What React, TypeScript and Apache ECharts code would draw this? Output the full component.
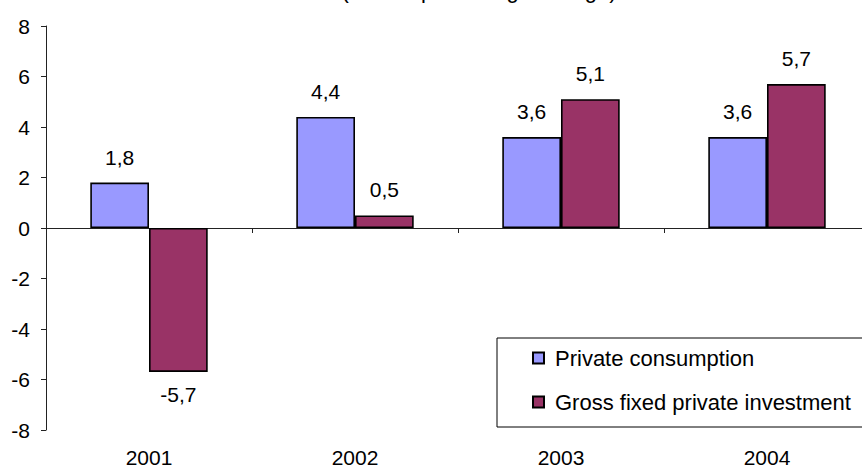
import React, { useEffect, useRef } from "react";
import * as echarts from "echarts";

// Annual figures
const years = ["2001", "2002", "2003", "2004"];
const privateConsumption = [1.8, 4.4, 3.6, 3.6];
const grossFixedInvestment = [-5.7, 0.5, 5.1, 5.7];
const seriesNames = ["Private consumption", "Gross fixed private investment"];
const titleText = "(annual percentage change)";

const FONT = "'Liberation Sans', Arial, sans-serif";

const fmt = (v: number) => String(v).replace(".", ",");

const toData = (values: number[]) =>
  values.map((v) => ({
    value: v,
    label: {
      position: v < 0 ? "bottom" : "top",
      distance: v < 0 ? 12 : 15,
    },
  }));

export default function App() {
  const ref = useRef<HTMLDivElement>(null);

  useEffect(() => {
    if (!ref.current) return;
    const chart = echarts.init(ref.current, undefined, { renderer: "svg" });

    const barStyle = (color: string) => ({
      color,
      borderColor: "#000",
      borderWidth: 1.6,
    });

    const labelCfg = {
      show: true,
      color: "#000",
      fontSize: 21,
      fontFamily: FONT,
      formatter: (p: any) => fmt(p.value),
    };

    chart.setOption({
      animation: false,
      backgroundColor: "#fff",
      textStyle: { fontFamily: FONT },
      graphic: [
        {
          type: "text",
          x: 479,
          y: -10,
          style: {
            text: titleText,
            font: `22px ${FONT}`,
            fill: "#000",
            align: "center",
            verticalAlign: "middle",
          },
        },
      ],
      // the plot area runs a little past the right edge of the page
      grid: {
        left: 46,
        width: 824,
        top: 26,
        bottom: 38,
        outerBoundsMode: "none",
        containLabel: false,
      },
      legend: {
        orient: "vertical",
        left: 497,
        top: 338,
        padding: [9, 40, 14, 35],
        itemGap: 22,
        itemWidth: 11,
        itemHeight: 11,
        icon: "rect",
        borderColor: "#000",
        borderWidth: 1,
        backgroundColor: "#fff",
        textStyle: {
          fontSize: 22,
          color: "#000",
          fontFamily: FONT,
          padding: [0, 0, 0, 6],
        },
        data: seriesNames,
      },
      xAxis: [
        {
          type: "category",
          data: years,
          position: "bottom",
          axisLine: { onZero: true, lineStyle: { color: "#222", width: 1 } },
          axisTick: { show: true, length: 5, lineStyle: { color: "#222" } },
          axisLabel: { show: false },
          splitLine: { show: false },
        },
        {
          type: "category",
          data: years,
          position: "bottom",
          axisLine: { show: false, onZero: false },
          axisTick: { show: false },
          axisLabel: {
            show: true,
            margin: 17,
            fontSize: 21,
            color: "#000",
            fontFamily: FONT,
          },
          splitLine: { show: false },
        },
      ],
      yAxis: {
        type: "value",
        min: -8,
        max: 8,
        interval: 2,
        axisLine: { show: true, lineStyle: { color: "#222", width: 1 } },
        axisTick: { show: true, length: 5, lineStyle: { color: "#222" } },
        axisLabel: {
          margin: 16,
          fontSize: 21,
          color: "#000",
          fontFamily: FONT,
        },
        splitLine: { show: false },
      },
      series: [
        {
          name: seriesNames[0],
          type: "bar",
          xAxisIndex: 0,
          data: toData(privateConsumption),
          itemStyle: barStyle("#9999FF"),
          barGap: "0%",
          barCategoryGap: "43%",
          label: labelCfg,
        },
        {
          name: seriesNames[1],
          type: "bar",
          xAxisIndex: 0,
          data: toData(grossFixedInvestment),
          itemStyle: barStyle("#993366"),
          barGap: "0%",
          barCategoryGap: "43%",
          label: labelCfg,
        },
      ],
    });

    return () => chart.dispose();
  }, []);

  return (
    <div
      ref={ref}
      style={{ position: "absolute", left: 0, top: 0, width: 862, height: 468 }}
    />
  );
}
